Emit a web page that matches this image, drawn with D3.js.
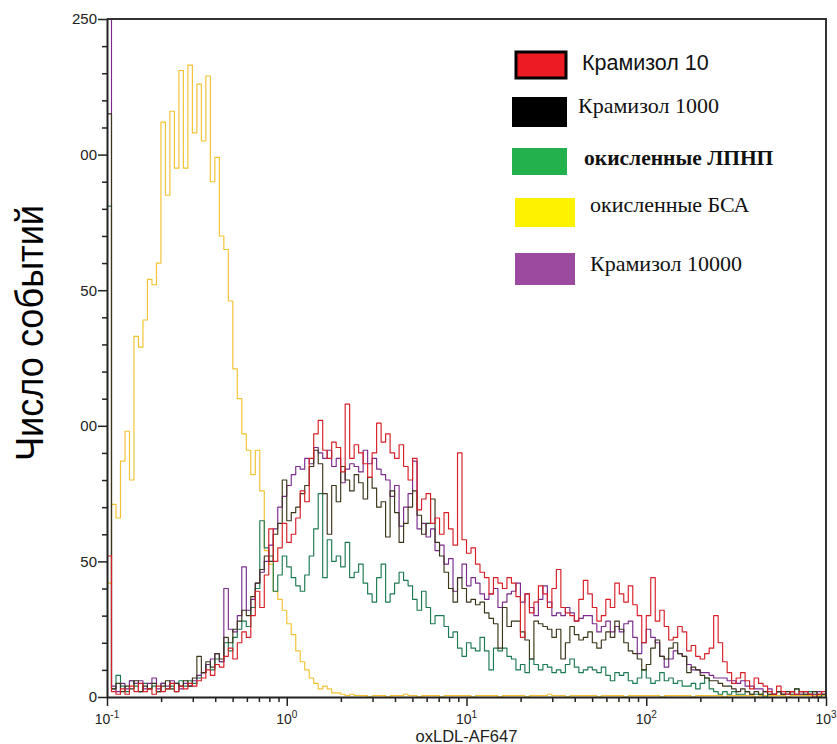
<!DOCTYPE html>
<html>
<head>
<meta charset="utf-8">
<script src="https://cdn.jsdelivr.net/npm/d3@7"></script>
<style>
  body { margin: 0; background: #fff; }
  svg { display: block; }
</style>
</head>
<body>
<svg id="chart" width="837" height="744"></svg>
<script>
// Histogram bins: 160 bins of 0.025 decade, starting at 10^-1
const binStartExp = -1;
const binWidthExp = 0.025;

// Event counts per bin
const redCounts = [
  52, 2, 1, 3, 1, 4, 2, 5, 2, 3,
  1, 4, 2, 3, 5, 2, 4, 3, 5, 4,
  6, 7, 10, 8, 12, 11, 15, 18, 14, 20,
  24, 22, 30, 39, 33, 45, 62, 50, 55, 64,
  57, 60, 66, 76, 72, 88, 97, 102, 91, 88,
  94, 92, 83, 108, 88, 93, 90, 86, 81, 90,
  101, 94, 97, 90, 88, 93, 85, 80, 88, 69,
  73, 75, 64, 66, 60, 68, 62, 56, 90, 58,
  53, 55, 49, 46, 44, 38, 44, 42, 40, 44,
  42, 37, 22, 38, 31, 35, 41, 38, 33, 40,
  47, 33, 31, 30, 28, 36, 43, 38, 33, 28,
  30, 36, 33, 42, 38, 35, 41, 34, 30, 20,
  30, 44, 28, 32, 26, 21, 22, 26, 24, 17,
  19, 15, 14, 16, 18, 30, 20, 13, 9, 5,
  7, 9, 6, 3, 7, 5, 4, 2, 1, 4,
  2, 1, 2, 1, 2, 2, 1, 0, 1, 2
];
const blackCounts = [
  215, 3, 5, 2, 4, 3, 6, 2, 4, 3,
  5, 2, 4, 6, 3, 5, 4, 6, 4, 7,
  15, 9, 13, 11, 16, 14, 22, 20, 25, 28,
  32, 30, 37, 42, 47, 52, 50, 60, 64, 80,
  65, 68, 70, 75, 78, 85, 91, 86, 75, 60,
  78, 72, 85, 80, 76, 82, 79, 73, 81, 77,
  70, 72, 59, 76, 68, 57, 64, 70, 76, 67,
  60, 64, 73, 57, 52, 46, 40, 35, 44, 40,
  35, 36, 34, 35, 31, 29, 27, 18, 33, 26,
  28, 28, 24, 21, 14, 28, 27, 26, 25, 22,
  25, 14, 20, 26, 23, 21, 22, 24, 20, 18,
  21, 24, 22, 28, 25, 20, 17, 16, 14, 10,
  12, 18, 21, 15, 14, 18, 20, 16, 15, 9,
  11, 10, 8, 7, 6, 6, 5, 4, 4, 3,
  2, 3, 2, 1, 2, 1, 2, 1, 1, 2,
  1, 2, 1, 3, 2, 1, 1, 2, 1, 1
];
const greenCounts = [
  181, 3, 8, 4, 2, 6, 4, 2, 5, 3,
  4, 2, 5, 3, 4, 2, 6, 4, 6, 5,
  7, 9, 12, 10, 14, 13, 20, 17, 22, 25,
  28, 26, 33, 40, 65, 55, 52, 39, 45, 52,
  48, 44, 41, 39, 45, 52, 62, 75, 44, 58,
  50, 52, 48, 57, 44, 46, 49, 42, 38, 35,
  44, 49, 35, 38, 42, 46, 43, 41, 36, 32,
  39, 33, 27, 30, 30, 26, 22, 24, 18, 15,
  20, 18, 17, 22, 17, 10, 18, 17, 18, 15,
  14, 10, 12, 9, 14, 12, 10, 12, 11, 9,
  10, 9, 12, 14, 11, 9, 10, 11, 10, 9,
  11, 8, 6, 9, 8, 9, 6, 5, 7, 10,
  7, 5, 6, 9, 6, 7, 5, 6, 4, 4,
  5, 3, 5, 7, 3, 2, 1, 2, 1, 2,
  1, 1, 2, 1, 1, 1, 0, 1, 1, 2,
  1, 1, 2, 3, 1, 1, 2, 1, 0, 1
];
const yellowCounts = [
  42, 71, 66, 87, 98, 80, 133, 129, 139, 154,
  152, 160, 212, 185, 216, 195, 231, 195, 233, 208,
  226, 205, 229, 190, 199, 170, 165, 146, 121, 110,
  97, 91, 82, 91, 76, 54, 49, 39, 36, 32,
  27, 23, 17, 13, 10, 7, 5, 3, 4, 3,
  1.5, 1.5, 1, 0.5, 1, 0.5, 0.5, 0.5, 0, 0.5,
  0.5, 0.5, 0, 0.5, 0.5, 0.5, 1, 0.5, 0.5, 0,
  0.5, 0.5, 0.5, 0.5, 0, 0.5, 0.5, 0.5, 0.5, 0.5,
  0.5, 0, 0.5, 0.5, 0.5, 0.5, 0.5, 0, 0.5, 0.5,
  0.5, 0.5, 0.5, 0, 0.5, 0.5, 0.5, 0.5, 1, 0.5,
  0.5, 0.5, 0, 0.5, 0.5, 0.5, 0.5, 0.5, 0.5, 0,
  0.5, 0.5, 0.5, 0.5, 0.5, 0, 0.5, 0.5, 0.5, 0.5,
  0.5, 0.5, 0.5, 0, 0.5, 0.5, 0.5, 0.5, 0.5, 0.5,
  0, 0.5, 0.5, 0.5, 0.5, 0.5, 0.5, 0, 0.5, 0.5,
  0.5, 0.5, 0.5, 0.5, 0, 0.5, 0.5, 0.5, 0.5, 0.5,
  0.5, 0, 0.5, 0.5, 0.5, 0.5, 0.5, 0.5, 0.5, 0.5
];
const purpleCounts = [
  280, 4, 2, 5, 3, 6, 5, 6, 3, 5,
  7, 3, 5, 4, 6, 5, 3, 5, 4, 6,
  8, 9, 12, 14, 16, 13, 40, 25, 24, 30,
  48, 32, 36, 42, 46, 50, 56, 62, 70, 74,
  78, 82, 85, 84, 88, 86, 92, 90, 88, 91,
  85, 88, 79, 84, 86, 85, 83, 91, 86, 88,
  84, 82, 80, 74, 78, 63, 70, 75, 87, 62,
  64, 59, 62, 54, 56, 49, 51, 39, 44, 49,
  41, 44, 42, 38, 36, 38, 40, 33, 35, 38,
  39, 42, 35, 38, 33, 30, 36, 41, 35, 30,
  31, 30, 33, 31, 28, 29, 30, 30, 27, 24,
  26, 28, 24, 26, 24, 27, 28, 22, 16, 20,
  25, 22, 20, 15, 11, 14, 17, 16, 15, 12,
  10, 10, 9, 9, 8, 7, 7, 7, 6, 6,
  5, 6, 4, 4, 3, 3, 2, 3, 1, 2,
  1, 1, 2, 1, 1, 2, 1, 1, 2, 1
];

// Axis ticks
const yTickValues = [0, 50, 100, 150, 200, 250];
const yTickLabels = ["0", "50", "00", "50", "00", "250"];
const xDecades = [0.1, 1, 10, 100, 1000];
const xDecadeExponents = ["-1", "0", "1", "2", "3"];

// Legend entries
const legendLabels = ["Крамизол 10", "Крамизол 1000", "окисленные ЛПНП", "окисленные БСА", "Крамизол 10000"];
const legendSwatchColors = ["#ed1c24", "#000000", "#22b14c", "#fff200", "#9c4aa0"];

(function drawChart() {
  const svg = d3.select("#chart");
  const plotLeft = 107, plotRight = 826, plotTop = 19, plotBottom = 697;

  const x = d3.scaleLog().domain([0.1, 1000]).range([plotLeft, plotRight]);
  const y = d3.scaleLinear().domain([0, 250]).range([plotBottom, plotTop]);

  // Clip the traces to the plot frame
  svg.append("defs").append("clipPath").attr("id", "plotClip")
    .append("rect").attr("x", plotLeft).attr("y", plotTop)
    .attr("width", plotRight - plotLeft).attr("height", plotBottom - plotTop);

  // Histogram traces, drawn back to front
  const traces = [
    { counts: yellowCounts, color: "#f3c232" },
    { counts: greenCounts, color: "#1c7a50" },
    { counts: purpleCounts, color: "#7b2a8c" },
    { counts: blackCounts, color: "#3b3519" },
    { counts: redCounts, color: "#d71e26" }
  ];

  const line = d3.line()
    .x(d => x(d[0]))
    .y(d => y(d[1]))
    .curve(d3.curveStepAfter);

  const traceLayer = svg.append("g").attr("clip-path", "url(#plotClip)");
  traces.forEach(t => {
    const pts = t.counts.map((v, i) => [Math.pow(10, binStartExp + i * binWidthExp), v]);
    pts.push([1000, t.counts[t.counts.length - 1]]);
    traceLayer.append("path")
      .datum(pts)
      .attr("fill", "none")
      .attr("stroke", t.color)
      .attr("stroke-width", 1.15)
      .attr("stroke-linejoin", "round")
      .attr("d", line);
  });

  // Frame on top and right
  svg.append("path")
    .attr("d", `M${plotLeft},${plotTop}H${plotRight}V${plotBottom}`)
    .attr("fill", "none").attr("stroke", "#333").attr("stroke-width", 2);

  // Y axis with minor ticks every 10
  const yAxis = d3.axisLeft(y)
    .tickValues(d3.range(0, 251, 10))
    .tickSize(5)
    .tickSizeOuter(0)
    .tickFormat(d => {
      const k = yTickValues.indexOf(d);
      return k >= 0 ? yTickLabels[k] : "";
    });
  const gy = svg.append("g").attr("transform", `translate(${plotLeft},0)`).call(yAxis);
  gy.selectAll(".tick line")
    .attr("x2", d => (d % 50 === 0 ? -9 : -5))
    .attr("stroke", "#222").attr("stroke-width", 1.5);
  gy.selectAll(".tick text")
    .attr("x", -10)
    .style("font-family", "'Liberation Sans', Arial, sans-serif")
    .style("font-size", "15px").attr("fill", "#222");
  gy.select(".domain").attr("stroke", "#222").attr("stroke-width", 2);

  // X axis: log decades with minor ticks 2..9
  const xTicks = [];
  xDecades.forEach(dec => {
    if (dec < 1000) for (let m = 1; m <= 9; m++) xTicks.push(dec * m);
    else xTicks.push(dec);
  });
  const xAxis = d3.axisBottom(x)
    .tickValues(xTicks)
    .tickSize(5)
    .tickSizeOuter(0)
    .tickFormat(() => "");
  const gx = svg.append("g").attr("transform", `translate(0,${plotBottom})`).call(xAxis);
  const isDecade = d => xDecades.some(v => Math.abs(v - d) / v < 1e-6);
  gx.selectAll(".tick line")
    .attr("y2", d => (isDecade(d) ? 9 : 5))
    .attr("stroke", "#222").attr("stroke-width", 1.5);
  gx.select(".domain").attr("stroke", "#222").attr("stroke-width", 2);

  // Decade labels as 10 with a superscript exponent
  xDecades.forEach((dec, i) => {
    const t = svg.append("text")
      .attr("x", x(dec))
      .attr("y", 724)
      .attr("text-anchor", "middle")
      .style("font-family", "'Liberation Sans', Arial, sans-serif")
      .style("font-size", "14px")
      .attr("fill", "#222");
    t.append("tspan").text("10");
    t.append("tspan").attr("dy", -6).style("font-size", "10px").text(xDecadeExponents[i]);
  });

  // Axis titles
  svg.append("text")
    .attr("x", x(10))
    .attr("y", 742)
    .attr("text-anchor", "middle")
    .style("font-family", "'Liberation Sans', Arial, sans-serif")
    .style("font-size", "16.5px")
    .attr("fill", "#222")
    .text("oxLDL-AF647");

  svg.append("text")
    .attr("transform", "translate(43,333) rotate(-90)")
    .attr("text-anchor", "middle")
    .style("font-family", "'Liberation Sans', Arial, sans-serif")
    .style("font-size", "38px")
    .attr("fill", "#000")
    .attr("textLength", 256)
    .attr("lengthAdjust", "spacingAndGlyphs")
    .text("Число событий");

  // Legend
  const legendRows = [
    { sx: 516, sy: 52, sw: 50, sh: 26, border: true,  tx: 582, ty: 70,  font: "'Liberation Sans', Arial, sans-serif", size: 21.5, weight: "normal" },
    { sx: 512, sy: 97, sw: 55, sh: 30, border: false, tx: 578, ty: 113, font: "'Liberation Serif', 'Times New Roman', serif", size: 22, weight: "normal" },
    { sx: 512, sy: 148, sw: 55, sh: 27, border: false, tx: 584, ty: 165, font: "'Liberation Serif', 'Times New Roman', serif", size: 21.5, weight: "bold" },
    { sx: 515, sy: 198, sw: 60, sh: 29, border: false, tx: 590, ty: 212, font: "'Liberation Serif', 'Times New Roman', serif", size: 22, weight: "normal" },
    { sx: 515, sy: 253, sw: 60, sh: 32, border: false, tx: 590, ty: 271, font: "'Liberation Serif', 'Times New Roman', serif", size: 22, weight: "normal" }
  ];
  const legend = svg.append("g");
  legendRows.forEach((r, i) => {
    legend.append("rect")
      .attr("x", r.sx).attr("y", r.sy)
      .attr("width", r.sw).attr("height", r.sh)
      .attr("fill", legendSwatchColors[i])
      .attr("stroke", r.border ? "#000" : "none")
      .attr("stroke-width", r.border ? 3 : 0);
    legend.append("text")
      .attr("x", r.tx).attr("y", r.ty)
      .style("font-family", r.font)
      .style("font-size", r.size + "px")
      .style("font-weight", r.weight)
      .attr("fill", "#111")
      .text(legendLabels[i]);
  });
})();
</script>
</body>
</html>
